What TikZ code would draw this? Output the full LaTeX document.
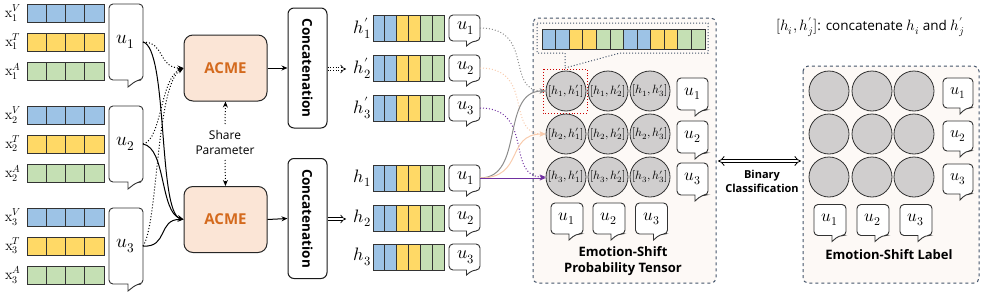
\documentclass[tikz,border=0pt]{standalone}
\usepackage{fontspec}
\usepackage{unicode-math}
\setmathfont{Latin Modern Math}
\newfontfamily\comic{Open Sans}
\usetikzlibrary{calc,arrows.meta}
\definecolor{cb}{HTML}{9DC3E6}
\definecolor{cy}{HTML}{FFD966}
\definecolor{cg}{HTML}{C5E0B4}
\definecolor{cgray}{HTML}{D0CECE}
\definecolor{peachfill}{HTML}{FBE5D6}
\definecolor{acmetext}{HTML}{D46A1E}
\definecolor{frame}{HTML}{44546A}
\definecolor{panelfill}{HTML}{FDF9F6}
\definecolor{cpeach}{HTML}{F8CBAD}
\definecolor{cpurple}{HTML}{7030A0}
\definecolor{cgrayline}{HTML}{8C8C8C}
\newcommand{\cellbar}[5]{%
  \foreach \cc [count=\ii from 0] in {#5} {%
    \filldraw[fill=\cc, draw=black!80, line width=0.8pt] ({#1+\ii*#3},#2) rectangle ++(#3,#4);}}
\newcommand{\ububble}[9]{%
  \draw[draw=black!80, line width=0.9pt, fill=white, rounded corners=4pt]
    ({#2-#4/2},#3) -- ({#2-#4/2},{#3-#5/2}) -- ({#2+#4/2},{#3-#5/2}) -- ({#2+#4/2},{#3+#5/2})
    -- ({#2+#6+#7},{#3+#5/2}) [sharp corners] -- ({#2+#6},{#3+#5/2+#8}) -- ({#2+#6},{#3+#5/2})
    [rounded corners=4pt] -- ({#2-#4/2},{#3+#5/2}) -- cycle;
  \node[inner sep=0pt, outer sep=0pt, minimum width=#4pt, minimum height=#5pt] (#1) at (#2,#3) {#9};}
\begin{document}
\begin{tikzpicture}[x=1pt,y=-1pt,
  lab/.style={inner sep=0pt, font=\fontsize{14.5}{14.5}\selectfont},
  hlab/.style={inner sep=0pt, anchor=east, font=\fontsize{18}{18}\selectfont},
  acme/.style={draw=black!85, line width=1pt, rounded corners=9pt, fill=peachfill, minimum width=83pt, minimum height=66pt, font=\comic\bfseries\fontsize{15}{15}\selectfont, text=acmetext},
  concat/.style={draw=black!90, line width=1pt, rounded corners=6pt, fill=white, minimum width=39pt, minimum height=120pt},
  circ/.style={circle, draw=black!80, line width=0.8pt, fill=cgray, minimum size=40pt, inner sep=0pt, font=\fontsize{12}{12}\selectfont},
  panel/.style={draw=frame, dashed, line width=1pt, rounded corners=5pt, fill=panelfill},
  ctext/.style={font=\comic\bfseries\fontsize{13}{16}\selectfont, align=center, inner sep=0pt},
  conn/.style={line width=1pt, -{Stealth[length=6pt,width=5pt]}},
  dconn/.style={line width=1pt, dotted, -{Stealth[length=6pt,width=5pt]}}
]
\useasboundingbox (0,0) rectangle (983,295);

% ---------- left inputs ----------
\foreach \g/\gy in {1/0,2/102,3/204}{
  \cellbar{27}{4+\gy}{19.25}{18}{cb,cb,cb,cb}
  \cellbar{27}{33+\gy}{19.25}{18}{cy,cy,cy,cy}
  \cellbar{27}{62+\gy}{19.25}{18}{cg,cg,cg,cg}
  \node[lab] (xv\g) at (13,13+\gy) {$\mathrm{x}_{\g}^{V}$};
  \node[lab] (xt\g) at (13,42+\gy) {$\mathrm{x}_{\g}^{T}$};
  \node[lab] (xa\g) at (13,71+\gy) {$\mathrm{x}_{\g}^{A}$};
}
\ububble{U1}{126}{42}{34}{76}{2}{9}{7}{\fontsize{19}{19}\selectfont$u_1$}
\ububble{U2}{126}{144}{34}{76}{2}{9}{7}{\fontsize{19}{19}\selectfont$u_2$}
\ububble{U3}{126}{246}{34}{76}{2}{9}{7}{\fontsize{19}{19}\selectfont$u_3$}

% ---------- ACME ----------
\node[acme] (A1) at (225.5,68) {ACME};
\node[acme] (A2) at (225.5,219.5) {ACME};
\node[font=\comic\fontsize{12}{15}\selectfont, align=center, inner sep=0pt] (share) at (225,142) {Share\\Parameter};
\coordinate (sh1) at (225,124);
\coordinate (sh2) at (225,160);
\draw[dconn] (sh1) -- (A1.south);
\draw[dconn] (sh2) -- (A2.north);

% connectors u -> ACME
\draw[dconn] (U1.east) .. controls (165,42) and (158,68) .. (A1.west);
\draw[dconn] (U2.east) .. controls (162,140) and (160,78) .. (A1.west);
\draw[dconn] (U3.east) .. controls (158,225) and (156,85) .. (A1.west);
\draw[conn] (U1.east) .. controls (168,48) and (158,212) .. (A2.west);
\draw[conn] (U2.east) .. controls (166,148) and (160,212) .. (A2.west);
\draw[conn] (U3.east) .. controls (168,248) and (158,219) .. (A2.west);

% ---------- Concatenation ----------
\node[concat] (C1) at (307.5,68) {};
\node[concat] (C2) at (307.5,218.5) {};
\node[rotate=-90, font=\comic\bfseries\fontsize{13.5}{13.5}\selectfont] (C1t) at (C1.center) {Concatenation};
\node[rotate=-90, font=\comic\bfseries\fontsize{13.5}{13.5}\selectfont] (C2t) at (C2.center) {Concatenation};
\draw[conn] (A1.east) -- (C1.west);
\draw[conn] (A2.east) -- (C2.west);
\coordinate (d1) at (346,69);
\coordinate (d2) at (346,219);
\draw[double, double distance=2.2pt, line width=0.7pt, dotted, -{Implies}] (C1.east |- d1) -- (d1);
\draw[double, double distance=2.2pt, line width=0.7pt, -{Implies}] (C2.east |- d2) -- (d2);

% ---------- h' and h ----------
\foreach \i/\yy in {1/15,2/55,3/95}{
  \cellbar{373}{\yy}{11.83}{26}{cb,cb,cy,cy,cg,cg}
  \node[hlab] (hp\i) at (371,\yy+13) {$h'_{\i}$};
}
\foreach \i/\yy in {1/165,2/205,3/244}{
  \cellbar{373}{\yy}{11.83}{26}{cb,cb,cy,cy,cg,cg}
  \node[hlab] (h\i) at (371,\yy+13) {$h_{\i}$};
}
\ububble{PU1}{464.5}{28}{31}{26}{2}{6}{5}{\hspace{3pt}\fontsize{18}{18}\selectfont$u_1$}
\ububble{PU2}{464.5}{68}{31}{26}{2}{6}{5}{\hspace{3pt}\fontsize{18}{18}\selectfont$u_2$}
\ububble{PU3}{464.5}{108}{31}{26}{2}{6}{5}{\hspace{3pt}\fontsize{18}{18}\selectfont$u_3$}
\ububble{QU1}{464.5}{178}{31}{26}{2}{6}{5}{\hspace{3pt}\fontsize{18}{18}\selectfont$u_1$}
\ububble{QU2}{464.5}{218}{31}{26}{2}{6}{5}{\hspace{3pt}\fontsize{18}{18}\selectfont$u_2$}
\ububble{QU3}{464.5}{257}{31}{26}{2}{6}{5}{\hspace{3pt}\fontsize{18}{18}\selectfont$u_3$}

% ---------- tensor panel ----------
\draw[panel] (533,18) rectangle (716,283);
\cellbar{542}{29}{13.58}{20}{cb,cb,cy,cy,cg,cg,cb,cb,cy,cy,cg,cg}
\draw[draw=frame, dotted, line width=1pt] (537,23) -- (708,23) -- (708,53) -- (620,53) -- (565,68) -- (565,53) -- (537,53) -- cycle;
\draw[draw=red!80!black, dotted, line width=0.9pt] (543,69) rectangle (587,113);
\foreach \r/\ry in {1/91,2/134,3/177}{
  \foreach \c/\cx in {1/566,2/608,3/650}{
    \node[circ] (c\r\c) at (\cx,\ry) {$[h_{\r},h'_{\c}]$};
  }
}
\ububble{TU1}{692.5}{94}{31}{32}{2.5}{7}{6}{\fontsize{17}{17}\selectfont$u_1$}
\ububble{TU2}{692.5}{137}{31}{32}{2.5}{7}{6}{\fontsize{17}{17}\selectfont$u_2$}
\ububble{TU3}{692.5}{179}{31}{32}{2.5}{7}{6}{\fontsize{17}{17}\selectfont$u_3$}
\ububble{TB1}{567}{218.5}{32}{31}{2}{7}{6}{\fontsize{17}{17}\selectfont$u_1$}
\ububble{TB2}{609}{218.5}{32}{31}{2}{7}{6}{\fontsize{17}{17}\selectfont$u_2$}
\ububble{TB3}{651.5}{218.5}{32}{31}{2}{7}{6}{\fontsize{17}{17}\selectfont$u_3$}
\node[ctext] (tt) at (623,261) {Emotion-Shift\\Probability Tensor};

% connectors to tensor
\draw[dconn, cgrayline] (PU1.east) .. controls (535,28) and (505,91) .. (c11.west);
\draw[dconn, cpeach] (PU2.east) .. controls (535,68) and (505,134) .. (c21.west);
\draw[dconn, cpurple] (PU3.east) .. controls (535,108) and (505,177) .. (c31.west);
\draw[conn, cgrayline] (QU1.east) .. controls (525,178) and (500,91) .. (c11.west);
\draw[conn, cpeach] (QU1.east) .. controls (525,178) and (505,134) .. (c21.west);
\draw[conn, cpurple] (QU1.east) -- (c31.west |- QU1.east);

% ---------- binary classification ----------
\draw[panel] (803,66) rectangle (979,283);
\draw[double, double distance=2.6pt, line width=0.8pt, {Implies}-{Implies}] (718,161) -- (801,161);
\node[font=\comic\bfseries\fontsize{11}{14}\selectfont, align=center, inner sep=0pt] (bc) at (762,181) {Binary\\Classification};

% ---------- label panel ----------
\foreach \r/\ry in {1/91,2/134,3/177}{
  \foreach \c/\cx in {1/829,2/872,3/914}{
    \node[circ] (l\r\c) at (\cx,\ry) {};
  }
}
\ububble{LU1}{958}{93}{30}{30}{2}{6}{6}{\fontsize{16}{16}\selectfont$u_1$}
\ububble{LU2}{958}{136}{30}{30}{2}{6}{6}{\fontsize{16}{16}\selectfont$u_2$}
\ububble{LU3}{958}{179}{30}{30}{2}{6}{6}{\fontsize{16}{16}\selectfont$u_3$}
\ububble{LB1}{830}{220}{32}{31}{2}{7}{6}{\fontsize{17}{17}\selectfont$u_1$}
\ububble{LB2}{873}{220}{32}{31}{2}{7}{6}{\fontsize{17}{17}\selectfont$u_2$}
\ububble{LB3}{916}{220}{32}{31}{2}{7}{6}{\fontsize{17}{17}\selectfont$u_3$}
\node[ctext] (lt) at (889,255) {Emotion-Shift Label};

% ---------- legend ----------
\node[font=\comic\fontsize{13.5}{13.5}\selectfont, inner sep=0pt] (legend) at (870,27) {\fontsize{15}{15}\selectfont$[h_i,h'_j]$\fontsize{13.5}{13.5}\selectfont: concatenate \fontsize{15}{15}\selectfont$h_i$\fontsize{13.5}{13.5}\selectfont{} and \fontsize{15}{15}\selectfont$h'_j$};
\end{tikzpicture}
\end{document}
